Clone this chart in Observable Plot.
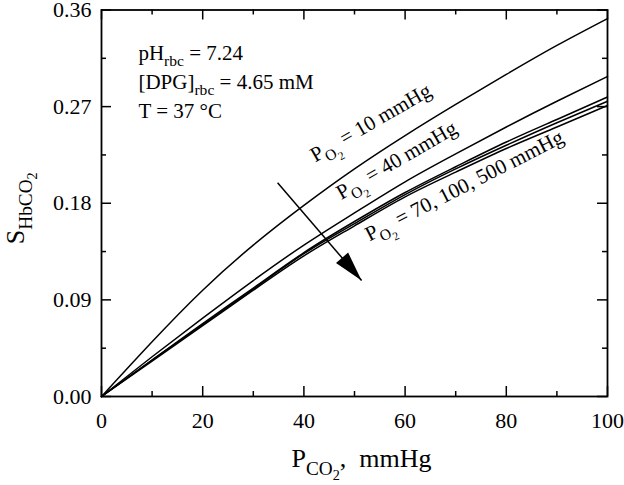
<!DOCTYPE html>
<html>
<head>
<meta charset="utf-8">
<script src="https://cdn.jsdelivr.net/npm/d3@7"></script>
<script src="https://cdn.jsdelivr.net/npm/@observablehq/plot@0.6"></script>
<style>
  html, body { margin: 0; padding: 0; background: #fff; }
</style>
</head>
<body>
<div id="chart"></div>
<script>
// ---- data ----
const pco2 = [0, 10, 20, 30, 40, 50, 60, 70, 80, 90, 100];
const s10  = [0, 0.051, 0.099, 0.141, 0.178, 0.212, 0.243, 0.272, 0.300, 0.327, 0.352];
const s40  = [0, 0.037, 0.073, 0.108, 0.141, 0.171, 0.200, 0.226, 0.251, 0.275, 0.298];
const s70  = [0, 0.034, 0.068, 0.101, 0.134, 0.163, 0.190, 0.214, 0.237, 0.258, 0.279];
const s100 = [0, 0.034, 0.067, 0.100, 0.133, 0.161, 0.188, 0.212, 0.234, 0.255, 0.275];
const s500 = [0, 0.033, 0.066, 0.099, 0.131, 0.159, 0.186, 0.209, 0.231, 0.251, 0.271];
const seriesNames = ["10", "40", "70", "100", "500"];
const seriesValues = [s10, s40, s70, s100, s500];

const xTicks = [0, 20, 40, 60, 80, 100];
const xMinor = [10, 30, 50, 70, 90];
const yTicks = [0, 0.09, 0.18, 0.27, 0.36];
const yMinor = [0.045, 0.135, 0.225, 0.315];

const curveLabels = ["P_{O_{2}} = 10 mmHg", "P_{O_{2}} = 40 mmHg", "P_{O_{2}} = 70, 100, 500 mmHg"];
const curveLabelX = [53.2, 58.3, 71.7];
const curveLabelY = [0.255, 0.220, 0.1965];
const curveLabelAngle = [-30, -30, -27];

const notes = ["pH_{rbc} = 7.24", "[DPG]_{rbc} = 4.65 mM", "T = 37 °C"];
const noteX = [7.3, 7.3, 7.3];
const noteY = [0.320, 0.293, 0.2655];

const arrowFrom = {x: 34.8, y: 0.199};
const arrowTo = {x: 51.4, y: 0.108};

const xTitle = "P_{CO_{2}},\u00a0 mmHg";
const yTitle = "S_{HbCO_{2}}";

// ---- build tables ----
const curves = seriesNames.flatMap((name, k) =>
  pco2.map((p, i) => ({series: name, x: p, y: seriesValues[k][i]})));
const labelRows = curveLabels.map((t, i) => ({t, x: curveLabelX[i], y: curveLabelY[i], a: curveLabelAngle[i]}));
const noteRows = notes.map((t, i) => ({t, x: noteX[i], y: noteY[i]}));

// ---- layout ----
const width = 624, height = 485;
const mL = 101, mR = 17, mT = 9.5, mB = 89;
const frameW = width - mL - mR, frameH = height - mT - mB;
const major = 10, minor = 5;

// filled arrow head (tip at origin, pointing along the arrow)
const headAngle = 139.4 * Math.PI / 180;
const headSymbol = {
  draw(ctx) {
    const pts = [[0, 0], [-8, 30], [8, 30]].map(([px, py]) => [
      px * Math.cos(headAngle) - py * Math.sin(headAngle),
      px * Math.sin(headAngle) + py * Math.cos(headAngle)
    ]);
    ctx.moveTo(pts[0][0], pts[0][1]);
    ctx.lineTo(pts[1][0], pts[1][1]);
    ctx.lineTo(pts[2][0], pts[2][1]);
    ctx.closePath();
  }
};

const plot = Plot.plot({
  width, height,
  marginLeft: mL, marginRight: mR, marginTop: mT, marginBottom: mB,
  style: {fontFamily: "'Liberation Serif', 'Times New Roman', serif", fontSize: "22px", background: "#fff", color: "#000"},
  x: {domain: [0, 100], ticks: xTicks, tickSize: 0, tickPadding: 16, label: null},
  y: {domain: [0, 0.36], ticks: yTicks, tickSize: 0, tickPadding: 10, tickFormat: d3.format(".2f"), label: null},
  marks: [
    Plot.line(curves, {x: "x", y: "y", z: "series", stroke: "#000", strokeWidth: 1.5, curve: "natural"}),
    // ticks inward: bottom / top
    Plot.tickX(xTicks, {x: d => d, insetTop: frameH - major, strokeWidth: 1.5}),
    Plot.tickX(xMinor, {x: d => d, insetTop: frameH - minor, strokeWidth: 1.5}),
    Plot.tickX(xTicks, {x: d => d, insetBottom: frameH - major, strokeWidth: 1.5}),
    Plot.tickX(xMinor, {x: d => d, insetBottom: frameH - minor, strokeWidth: 1.5}),
    // ticks inward: left / right
    Plot.tickY(yTicks, {y: d => d, insetRight: frameW - major, strokeWidth: 1.5}),
    Plot.tickY(yMinor, {y: d => d, insetRight: frameW - minor, strokeWidth: 1.5}),
    Plot.tickY(yTicks, {y: d => d, insetLeft: frameW - major, strokeWidth: 1.5}),
    Plot.tickY(yMinor, {y: d => d, insetLeft: frameW - minor, strokeWidth: 1.5}),
    Plot.frame({stroke: "#000", strokeWidth: 1.8}),
    // arrow
    Plot.link([{x1: arrowFrom.x, y1: arrowFrom.y, x2: arrowTo.x, y2: arrowTo.y}],
      {x1: "x1", y1: "y1", x2: "x2", y2: "y2", stroke: "#000", strokeWidth: 1.5}),
    Plot.dot([arrowTo], {x: "x", y: "y", symbol: headSymbol, fill: "#000", stroke: "none"}),
    // curve labels
    Plot.text(labelRows, {x: "x", y: "y", text: "t", rotate: "a", fontSize: 21, textAnchor: "middle", lineAnchor: "middle"}),
    // notes
    Plot.text(noteRows, {x: "x", y: "y", text: "t", fontSize: 21, textAnchor: "start", lineAnchor: "middle"}),
    // axis titles
    Plot.text([xTitle], {frameAnchor: "bottom", text: d => d, dx: 7, dy: 62, fontSize: 26, textAnchor: "middle", lineAnchor: "middle"}),
    Plot.text([yTitle], {frameAnchor: "left", text: d => d, rotate: -90, dx: -86, dy: 5, fontSize: 26, textAnchor: "middle", lineAnchor: "middle"})
  ]
});

document.getElementById("chart").appendChild(plot);

// ---- subscript markup: "_{...}" -> tspans ----
function parseSubs(str) {
  const segs = [];
  let lvl = 0, buf = "";
  for (let i = 0; i < str.length; i++) {
    if (str[i] === "_" && str[i + 1] === "{") {
      if (buf) segs.push({t: buf, lvl});
      buf = ""; lvl++; i++;
    } else if (str[i] === "}" && lvl > 0) {
      if (buf) segs.push({t: buf, lvl});
      buf = ""; lvl--;
    } else buf += str[i];
  }
  if (buf) segs.push({t: buf, lvl});
  return segs;
}
const NS = "http://www.w3.org/2000/svg";
plot.querySelectorAll("text").forEach(text => {
  const s = text.textContent;
  if (!s.includes("_{")) return;
  const base = parseFloat(getComputedStyle(text).fontSize) || 21;
  const ratio = 0.74, shift = 0.3;
  const sizes = [base], offs = [0];
  for (let l = 1; l < 4; l++) { sizes[l] = sizes[l - 1] * ratio; offs[l] = offs[l - 1] + shift * sizes[l - 1]; }
  let firstDy = null;
  const fc = text.firstElementChild;
  if (fc && fc.getAttribute("dy")) firstDy = fc.getAttribute("dy");
  while (text.firstChild) text.removeChild(text.firstChild);
  let prev = 0, first = true;
  for (const seg of parseSubs(s)) {
    const ts = document.createElementNS(NS, "tspan");
    ts.textContent = seg.t;
    if (seg.lvl > 0) ts.setAttribute("font-size", sizes[seg.lvl].toFixed(2));
    const d = offs[seg.lvl] - prev;
    if (first) { if (firstDy) ts.setAttribute("dy", firstDy); }
    else if (d !== 0) ts.setAttribute("dy", d.toFixed(2));
    prev = offs[seg.lvl];
    first = false;
    text.appendChild(ts);
  }
});
</script>
</body>
</html>
